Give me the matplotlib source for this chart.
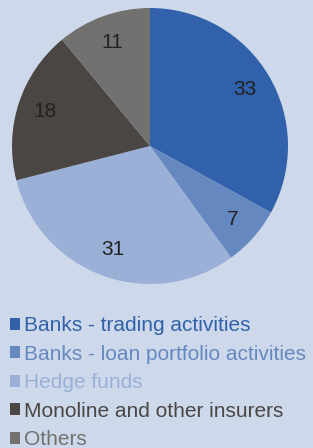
import matplotlib.pyplot as plt

plt.rcParams['font.family'] = ['Liberation Sans', 'DejaVu Sans']

labels = ['Banks - trading activities', 'Banks - loan portfolio activities',
          'Hedge funds', 'Monoline and other insurers', 'Others']
values = [33, 7, 31, 18, 11]
colors = ['#3161aa', '#6688c1', '#9ab0d7', '#4a4644', '#72716f']
bg = '#cdd9ea'

fig = plt.figure(figsize=(3.13, 4.48), dpi=100, facecolor=bg)
ax = fig.add_axes([12 / 313, 1 - 284 / 448, 276 / 313, 276 / 448])
ax.set_facecolor(bg)

wedges, texts = ax.pie(values, colors=colors, startangle=90, counterclock=False,
                       labels=[str(v) for v in values], labeldistance=0.8,
                       textprops={'fontsize': 15, 'color': '#222222'},
                       wedgeprops={'linewidth': 0})
for t in texts:
    t.set_horizontalalignment('center')
    t.set_verticalalignment('center')
ax.set_xlim(-1, 1)
ax.set_ylim(-1, 1)
ax.set_aspect('equal')

leg = fig.legend(wedges, labels, loc='upper left', bbox_to_anchor=(10 / 313, 1 - 316 / 448),
                 frameon=False, fontsize=15, handlelength=0.5, handleheight=0.5,
                 handletextpad=0.15, labelspacing=0.46, borderaxespad=0, borderpad=0,
                 labelcolor=colors)

fig.savefig('out.png', dpi=100, facecolor=bg)
